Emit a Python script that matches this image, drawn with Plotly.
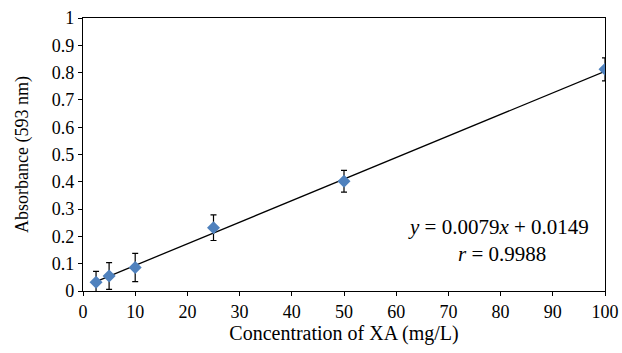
import plotly.graph_objects as go

conc = [2.5, 5, 10, 25, 50, 100]
absorbance = [0.032, 0.055, 0.086, 0.232, 0.402, 0.812]
err = [0.040, 0.049, 0.052, 0.047, 0.040, 0.042]
slope = 0.0079
intercept = 0.0149
fit_x = [2.5, 100]
fit_y = [slope * v + intercept for v in fit_x]

x_ticks = list(range(0, 101, 10))
y_ticks = [0, 0.1, 0.2, 0.3, 0.4, 0.5, 0.6, 0.7, 0.8, 0.9, 1]
y_tick_labels = ["0", "0.1", "0.2", "0.3", "0.4", "0.5", "0.6", "0.7", "0.8", "0.9", "1"]

font = "Liberation Serif"

fig = go.Figure()
fig.add_trace(go.Scatter(
    x=fit_x, y=fit_y, mode="lines",
    line=dict(color="black", width=1.3), showlegend=False, hoverinfo="skip"))
fig.add_trace(go.Scatter(
    x=conc, y=absorbance, mode="markers",
    marker=dict(symbol="diamond", size=10, color="#4F81BD"),
    error_y=dict(type="data", array=err, visible=True, color="black",
                 thickness=1.2, width=3),
    showlegend=False))

fig.add_annotation(x=0.796, y=0.234, xref="paper", yref="paper",
                   xanchor="center", yanchor="middle",
                   text="<i>y</i> = 0.0079<i>x</i> + 0.0149",
                   showarrow=False, font=dict(family=font, size=21, color="black"))
fig.add_annotation(x=0.803, y=0.136, xref="paper", yref="paper",
                   xanchor="center", yanchor="middle",
                   text="<i>r</i> = 0.9988",
                   showarrow=False, font=dict(family=font, size=21, color="black"))

axis_common = dict(showline=True, linecolor="black", linewidth=1.2, mirror=True,
                   showgrid=False, zeroline=False, ticks="outside", ticklen=4,
                   tickcolor="black", tickwidth=1, ticklabeloverflow="allow",
                   automargin=False,
                   tickfont=dict(family=font, size=18, color="black"))

fig.update_xaxes(range=[0, 100], tickvals=x_ticks,
                 title=dict(text="Concentration of XA (mg/L)", standoff=2,
                            font=dict(family=font, size=20, color="black")),
                 **axis_common)
fig.update_yaxes(range=[0, 1], tickvals=y_ticks, ticktext=y_tick_labels,
                 title=dict(text="Absorbance (593 nm)", standoff=18,
                            font=dict(family=font, size=18, color="black")),
                 **axis_common)

fig.update_layout(width=622, height=353, margin=dict(l=83, r=17, t=18, b=62),
                  plot_bgcolor="white", paper_bgcolor="white",
                  font=dict(family=font))

fig.write_html("out.html", config={"displayModeBar": False},
               post_script="document.body.style.margin='0';document.body.style.overflow='hidden';")
